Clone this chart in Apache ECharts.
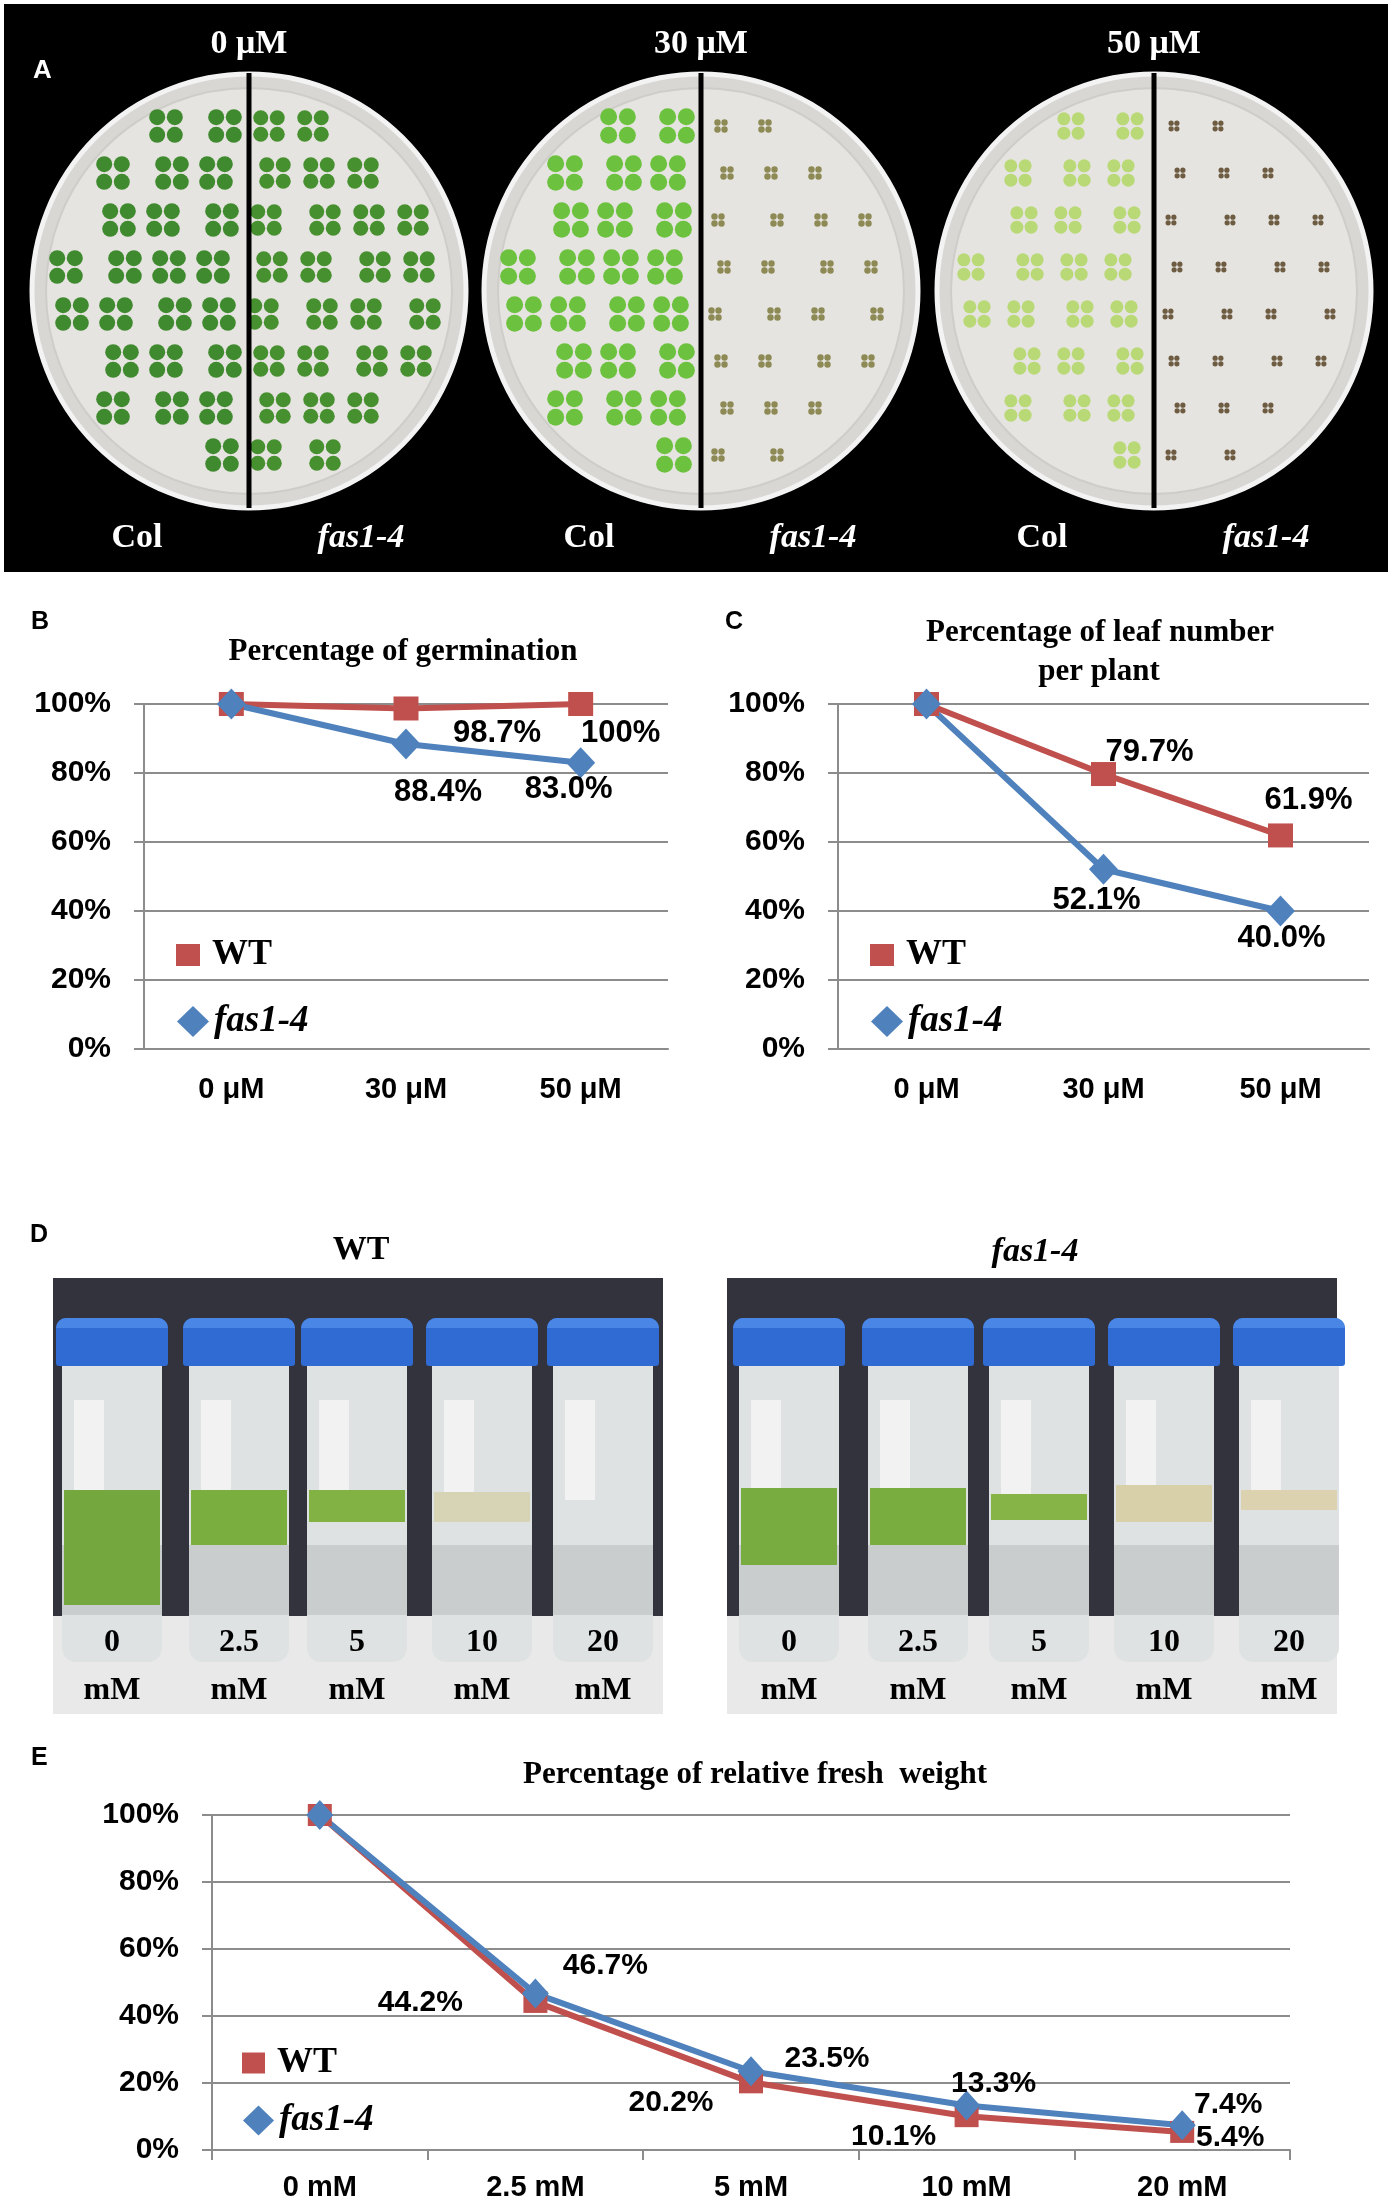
<!DOCTYPE html>
<html>
<head>
<meta charset="utf-8">
<script src="https://cdn.jsdelivr.net/npm/echarts@6/dist/echarts.min.js"></script>
<style>
html,body{margin:0;padding:0;background:#fff;}
#chart{width:1391px;height:2204px;}
</style>
</head>
<body>
<div id="chart"></div>
<script>
// ---------------- data ----------------
const doseCats = ['0 μM', '30 μM', '50 μM'];
const germWT = [100, 98.7, 100];
const germFas = [100, 88.4, 83.0];
const leafWT = [100, 79.7, 61.9];
const leafFas = [100, 52.1, 40.0];
const saltCats = ['0 mM', '2.5 mM', '5 mM', '10 mM', '20 mM'];
const freshWT = [100, 44.2, 20.2, 10.1, 5.4];
const freshFas = [100, 46.7, 23.5, 13.3, 7.4];
const tubeConc = ['0', '2.5', '5', '10', '20'];
const yTickMin = 0, yTickMax = 100, yTickStep = 20;

// ---------------- label offsets (style) ----------------
const offB_WT = [null, [91, 25], [40, 29]];
const offB_Fas = [null, [32, 48], [-12, 27]];
const offC_WT = [null, [46, -22], [28, -35]];
const offC_Fas = [null, [-7, 31], [1, 27]];
const offE_WT = [null, [-115, 1], [-80, 20], [-73, 21], [48, 6]];
const offE_Fas = [null, [70, -28], [76, -13], [27, -22], [46, -20]];

const SANS = "'Liberation Sans', Arial, Helvetica, sans-serif";
const SERIF = "'Liberation Serif', 'Times New Roman', serif";
const RED = '#C0504D', BLUE = '#4F81BD', GRID = '#8c8c8c';

function fmt(v) { return v === 100 ? '100%' : v.toFixed(1) + '%'; }
function items(vals, offs, fs) {
  return vals.map((v, i) => ({
    value: v,
    label: offs[i] ? { show: true, position: 'inside', offset: offs[i], formatter: fmt(v),
      color: '#000', fontFamily: SANS, fontWeight: 'bold', fontSize: fs } : { show: false }
  }));
}

const grids = [
  { left: 144, top: 704, width: 524, height: 345 },
  { left: 838, top: 704, width: 531, height: 345 },
  { left: 212, top: 1815, width: 1078, height: 335 }
];
grids.forEach(g => { g.outerBoundsMode = 'none'; g.containLabel = false; });

function xAxis(idx, cats, ticks, margin) {
  return {
    type: 'category', gridIndex: idx, data: cats, boundaryGap: true,
    axisLine: { lineStyle: { color: GRID, width: 2 } },
    axisTick: { show: ticks, length: 10, lineStyle: { color: GRID, width: 2 } },
    axisLabel: { color: '#000', fontFamily: SANS, fontWeight: 'bold', fontSize: 29, margin: margin }
  };
}
function yAxis(idx) {
  return {
    type: 'value', gridIndex: idx, min: yTickMin, max: yTickMax, interval: yTickStep,
    axisLine: { show: true, lineStyle: { color: GRID, width: 2 } },
    axisTick: { show: true, length: 10, lineStyle: { color: GRID, width: 2 } },
    splitLine: { lineStyle: { color: GRID, width: 2 } },
    axisLabel: { color: '#000', fontFamily: SANS, fontWeight: 'bold', fontSize: 30, margin: 33,
      formatter: v => v + '%' }
  };
}
function line(name, idx, data, color, symbol, size) {
  return {
    type: 'line', name: name, xAxisIndex: idx, yAxisIndex: idx, data: data,
    symbol: symbol, symbolSize: size, showAllSymbol: true,
    lineStyle: { color: color, width: 6 }, itemStyle: { color: color },
    emphasis: { disabled: true }, animation: false
  };
}
function legendPair(left, topWT, topFas, wtSize, fasSize) {
  const base = { orient: 'vertical', padding: 0, selectedMode: false };
  return [
    Object.assign({}, base, { left: left, top: topWT, itemWidth: wtSize[0], itemHeight: wtSize[1],
      data: [{ name: 'WT', icon: 'rect' }],
      textStyle: { color: '#000', fontFamily: SERIF, fontWeight: 'bold', fontSize: 36, lineHeight: 36, padding: [0, 0, 0, 7] } }),
    Object.assign({}, base, { left: left + 1, top: topFas, itemWidth: fasSize[0], itemHeight: fasSize[1],
      data: [{ name: 'fas1-4', icon: 'diamond' }],
      textStyle: { color: '#000', fontFamily: SERIF, fontWeight: 'bold', fontStyle: 'italic', fontSize: 37, lineHeight: 36 } })
  ];
}

// ---------------- decorative photo panels (A and D) ----------------
const gfx = [];
function txt(x, y, s, font, fill, align) {
  gfx.push({ type: 'text', x: x, y: y, silent: true,
    style: { text: s, font: font, fill: fill || '#000', textAlign: align || 'center', textVerticalAlign: 'middle' } });
}
// Panel A
gfx.push({ type: 'rect', shape: { x: 4, y: 4, width: 1384, height: 568 }, style: { fill: '#000' }, silent: true });
const plateCx = [249, 701, 1154];
const plateLook = [
  { col: '#3f8a2e', colR: 8, fas: '#47902f', fasR: 7.5 },
  { col: '#6cc23e', colR: 8.5, fas: '#8d8a55', fasR: 3.2 },
  { col: '#b9d977', colR: 6.5, fas: '#6e5c42', fasR: 2.6 }
];
plateCx.forEach((cx, p) => {
  const cy = 291, R = 217;
  gfx.push({ type: 'circle', shape: { cx: cx, cy: cy, r: R }, style: { fill: '#d9d7d3', stroke: '#f3f3f3', lineWidth: 5 }, silent: true });
  gfx.push({ type: 'circle', shape: { cx: cx, cy: cy, r: R - 14 }, style: { fill: '#e6e4e0', stroke: '#cfcdc9', lineWidth: 2 }, silent: true });
  const look = plateLook[p];
  for (let r = 0; r < 8; r++) {
    const dy = -165 + r * 47;
    for (let c = 0; c < 8; c++) {
      const dx = -180 + c * 50 + ((r * 7 + c * 3) % 5 - 2) * 3;
      if (Math.hypot(dx, dy) > R - 32 || Math.abs(dx) < 10) continue;
      const isCol = dx < 0;
      const lr = isCol ? look.colR : look.fasR;
      const color = isCol ? look.col : look.fas;
      const x0 = cx + dx, y0 = cy + dy;
      [[-1, -1], [1, -1], [-1, 1], [1, 1]].forEach(d => {
        gfx.push({ type: 'circle', shape: { cx: x0 + d[0] * lr * 1.1, cy: y0 + d[1] * lr * 1.1, r: lr }, style: { fill: color }, silent: true });
      });
    }
  }
  gfx.push({ type: 'line', shape: { x1: cx, y1: 73, x2: cx, y2: 508 }, style: { stroke: '#000', lineWidth: 5 }, silent: true });
  txt(cx, 44, doseCats[p], 'bold 34px ' + SERIF, '#fff');
  txt(cx - 112, 538, 'Col', 'bold 34px ' + SERIF, '#fff');
  txt(cx + 112, 538, 'fas1-4', 'italic bold 34px ' + SERIF, '#fff');
});
txt(33, 71, 'A', 'bold 26px ' + SANS, '#fff', 'left');

// Panel D
const photoLeft = [53, 727];
const tubeX = [[112, 239, 357, 482, 603], [789, 918, 1039, 1164, 1289]];
const leafLook = [
  [['#74a83e', 1490, 1605], ['#7aae3f', 1490, 1545], ['#82b244', 1490, 1522], ['#d6d4b4', 1492, 1522], [null]],
  [['#78ab40', 1488, 1565], ['#79ad3f', 1488, 1545], ['#86b446', 1494, 1520], ['#d8d0a8', 1485, 1522], ['#dcd2b0', 1490, 1510]]
];
photoLeft.forEach((px, p) => {
  gfx.push({ type: 'rect', shape: { x: px, y: 1278, width: 610, height: 436 }, style: { fill: '#e9e9ea' }, silent: true });
  gfx.push({ type: 'rect', shape: { x: px, y: 1278, width: 610, height: 338 }, style: { fill: '#32333d' }, silent: true });
  tubeX[p].forEach((tx, t) => {
    gfx.push({ type: 'rect', shape: { x: tx - 50, y: 1362, width: 100, height: 300, r: [0, 0, 14, 14] }, style: { fill: '#dfe2e2' }, silent: true });
    gfx.push({ type: 'rect', shape: { x: tx - 38, y: 1400, width: 30, height: 100 }, style: { fill: '#f2f2f2' }, silent: true });
    gfx.push({ type: 'rect', shape: { x: tx - 50, y: 1545, width: 100, height: 70 }, style: { fill: '#c9cdce' }, silent: true });
    const lk = leafLook[p][t];
    if (lk[0]) gfx.push({ type: 'rect', shape: { x: tx - 48, y: lk[1], width: 96, height: lk[2] - lk[1] }, style: { fill: lk[0] }, silent: true });
    gfx.push({ type: 'rect', shape: { x: tx - 56, y: 1318, width: 112, height: 48, r: [10, 10, 3, 3] }, style: { fill: '#2f6bd3' }, silent: true });
    gfx.push({ type: 'rect', shape: { x: tx - 56, y: 1318, width: 112, height: 10, r: [10, 10, 0, 0] }, style: { fill: '#4a86e6' }, silent: true });
    txt(tx, 1643, tubeConc[t], 'bold 32px ' + SERIF);
    txt(tx, 1691, 'mM', 'bold 32px ' + SERIF);
  });
});
txt(30, 1235, 'D', 'bold 25px ' + SANS, '#000', 'left');
txt(361, 1250, 'WT', 'bold 34px ' + SERIF);
txt(1035, 1252, 'fas1-4', 'italic bold 34px ' + SERIF);

// panel letters and chart titles
txt(31, 622, 'B', 'bold 25px ' + SANS, '#000', 'left');
txt(725, 622, 'C', 'bold 25px ' + SANS, '#000', 'left');
txt(31, 1758, 'E', 'bold 25px ' + SANS, '#000', 'left');
txt(403, 652, 'Percentage of germination', 'bold 31px ' + SERIF);
txt(1100, 633, 'Percentage of leaf number', 'bold 31px ' + SERIF);
txt(1099, 672, 'per plant', 'bold 31px ' + SERIF);
txt(755, 1775, 'Percentage of relative fresh  weight', 'bold 31px ' + SERIF);

const chart = echarts.init(document.getElementById('chart'), null, { renderer: 'canvas' });
chart.setOption({
  animation: false,
  backgroundColor: '#fff',
  grid: grids,
  xAxis: [xAxis(0, doseCats, false, 26), xAxis(1, doseCats, false, 26), xAxis(2, saltCats, true, 23)],
  yAxis: [yAxis(0), yAxis(1), yAxis(2)],
  legend: [].concat(
    legendPair(176, 937, 1003, [24, 22], [32, 31]),
    legendPair(870, 937, 1003, [24, 22], [32, 31]),
    legendPair(242, 2045, 2102, [23, 21], [31, 30])
  ),
  series: [
    line('WT', 0, items(germWT, offB_WT, 31), RED, 'rect', [25, 24]),
    line('fas1-4', 0, items(germFas, offB_Fas, 31), BLUE, 'diamond', [29, 31]),
    line('WT', 1, items(leafWT, offC_WT, 31), RED, 'rect', [25, 24]),
    line('fas1-4', 1, items(leafFas, offC_Fas, 31), BLUE, 'diamond', [29, 31]),
    line('WT', 2, items(freshWT, offE_WT, 30), RED, 'rect', [24, 22]),
    line('fas1-4', 2, items(freshFas, offE_Fas, 30), BLUE, 'diamond', [27, 30])
  ],
  graphic: { elements: gfx }
});
</script>
</body>
</html>
